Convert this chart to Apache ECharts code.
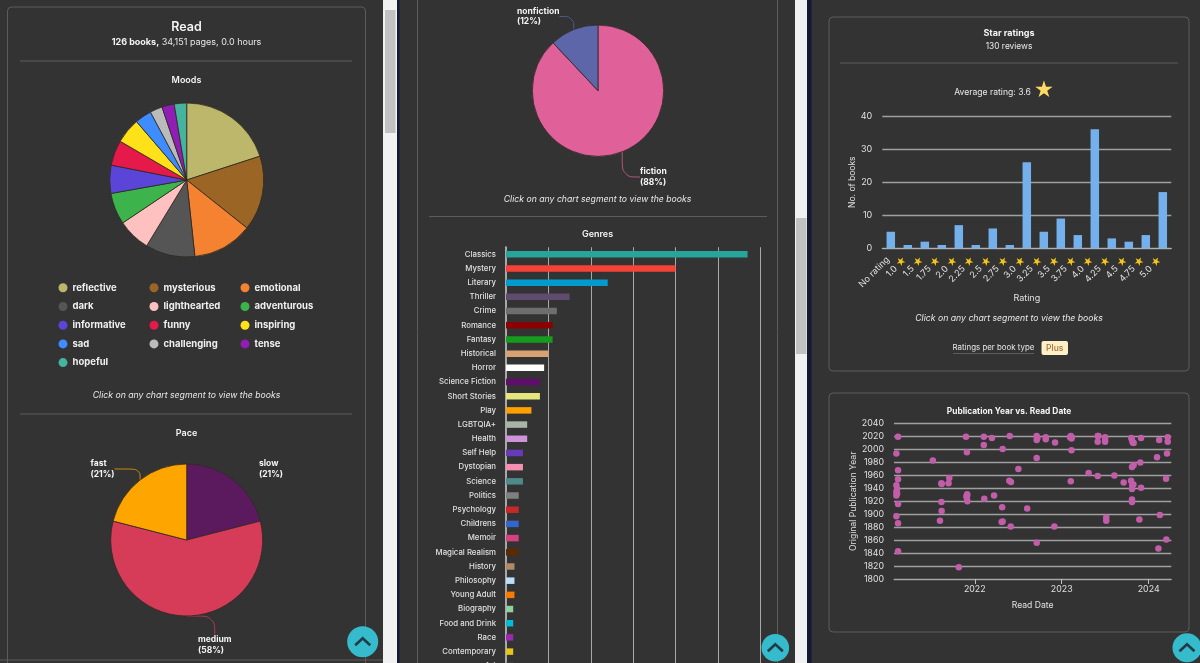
<!DOCTYPE html>
<html>
<head>
<meta charset="utf-8">
<title>Reading stats</title>
<script src="https://cdn.jsdelivr.net/npm/echarts@6/dist/echarts.min.js"></script>
<style>
html, body { margin: 0; padding: 0; background: #333; }
#charts_box { width: 1200px; height: 663px; }
</style>
</head>
<body>
<div id="charts_box"></div>
<script>
var moodNames = ['reflective','mysterious','emotional','dark','lighthearted','adventurous','informative','funny','inspiring','sad','challenging','tense','hopeful'];
var moodValues = [20, 15.7, 12.6, 10.4, 6.9, 6.6, 5.9, 5.3, 5.3, 3.5, 2.6, 2.6, 2.6];
var moodColors = ['#BDB76B','#9B6625','#F58231','#555555','#FFC0C0','#3CB44B','#5A45D8','#E6194B','#FFE119','#3E8CFF','#BBBBBB','#911EB4','#45B39D'];

var paceNames = ['slow','medium','fast'];
var paceValues = [21, 58, 21];
var paceColors = ['#5C1A5E','#D63B57','#FFA500'];

var typeNames = ['fiction','nonfiction'];
var typeValues = [88, 12];
var typeColors = ['#E0609A','#5C66A8'];

var genreNames = ['Classics','Mystery','Literary','Thriller','Crime','Romance','Fantasy','Historical','Horror','Science Fiction','Short Stories','Play','LGBTQIA+','Health','Self Help','Dystopian','Science','Politics','Psychology','Childrens','Memoir','Magical Realism','History','Philosophy','Young Adult','Biography','Food and Drink','Race','Contemporary','Art'];
var genreValues = [57,40,24,15,12,11,11,10,9,8,8,6,5,5,4,4,4,3,3,3,3,3,2,2,2,1.7,1.7,1.7,1.7,1.7];
var genreColors = ['#26A69A','#F44336','#039BCE','#5F4B6E','#6E6E6E','#8B0000','#169B1F','#D9A273','#FFFFFF','#5F0F6B','#E6E67F','#FFA000','#A9B5A5','#CE93D8','#673AB7','#F48FB1','#4F8A8B','#808080','#C62828','#3366CC','#D6407F','#5D2A00','#B08968','#BBDEFB','#F57C00','#8FD19E','#00BCD4','#9C27B0','#E6C519','#555555'];

var ratingNames = ['No rating','1.0','1.5','1.75','2.0','2.25','2.5','2.75','3.0','3.25','3.5','3.75','4.0','4.25','4.5','4.75','5.0'];
var ratingValues = [5,1,2,1,7,1,6,1,26,5,9,4,36,3,2,4,17];

// read date, original publication year
var readDates = [
  ['2021-02-13',2020],['2021-02-06',1994],['2021-02-13',1968],['2021-02-13',1954],['2021-02-06',1945],['2021-02-09',1939],['2021-02-06',1935],['2021-02-09',1932],['2021-02-06',1929],['2021-02-13',1916],['2021-02-06',1897],['2021-02-13',1886],['2021-02-13',1843],
  ['2021-07-09',1983],['2021-08-15',1947],['2021-08-14',1948],['2021-08-14',1919],['2021-08-15',1905],['2021-08-08',1890],['2021-09-16',1956],['2021-09-13',1948],['2021-10-26',1818],
  ['2021-11-25',2020],['2021-11-29',1996],['2021-11-30',1931],['2021-11-27',1928],['2021-11-29',1925],['2021-12-01',1920],['2021-11-30',1929],
  ['2022-02-08',2020],['2022-02-08',2007],['2022-02-10',1924],['2022-03-14',2018],['2022-03-23',1929],['2022-04-28',2001],['2022-04-26',1911],['2022-04-28',1889],['2022-04-24',1888],['2022-06-01',1881],['2022-05-28',2021],['2022-05-26',1952],['2022-06-02',1950],['2022-07-03',1970],['2022-08-09',1909],
  ['2022-09-18',1987],['2022-09-18',1856],['2022-09-18',2021],['2022-09-21',2018],['2022-09-18',2015],['2022-10-26',2019],['2022-10-26',2016],['2022-12-04',2011],['2022-12-01',1881],
  ['2023-02-11',1999],['2023-02-08',1951],['2023-02-08',2021],['2023-02-12',2019],['2023-02-05',2019],['2023-02-11',2017],['2023-04-24',1964],['2023-06-01',1959],['2023-06-04',2021],['2023-06-01',2021],['2023-06-01',2012],['2023-07-02',2019],['2023-07-02',2015],['2023-07-02',2012],['2023-07-07',1895],['2023-07-07',1890],['2023-08-10',1960],['2023-09-18',1949],
  ['2023-10-19',1952],['2023-10-24',1945],['2023-10-29',1946],['2023-10-23',1939],['2023-10-23',1923],['2023-10-23',1919],['2023-10-20',2018],['2023-10-23',2015],['2023-10-26',2011],['2023-10-30',2010],['2023-10-23',1973],['2023-10-30',1976],['2023-11-27',1980],['2023-11-30',2018],['2023-11-30',1941],['2023-11-23',1892],
  ['2024-02-05',1988],['2024-02-14',2015],['2024-02-17',1899],['2024-02-11',1847],['2024-03-15',1861],['2024-03-14',1955],['2024-03-18',1994],['2024-03-21',2019],['2024-03-21',2012]
];

var FONT = 'Inter, "Noto Sans", sans-serif';
var PAGE = '#333333';
var LINE = '#5c5c5c';

function zip(names, values, colors) {
  return names.map(function (n, i) {
    return { name: n, value: values[i], itemStyle: { color: colors[i] } };
  });
}

function txt(x, y, text, size, opts) {
  opts = opts || {};
  return {
    type: 'text', x: x, y: y, z: 20,
    style: {
      text: text,
      fill: opts.color || '#e8e8e8',
      fontFamily: FONT,
      fontSize: size,
      fontWeight: opts.weight || 400,
      fontStyle: opts.italic ? 'italic' : 'normal',
      textAlign: opts.align || 'center',
      textVerticalAlign: 'middle',
      rich: opts.rich
    }
  };
}

function box(x, y, w, h, fill, r) {
  return { type: 'rect', z: -1, silent: true, shape: { x: x, y: y, width: w, height: h, r: r || 0 }, style: { fill: fill } };
}

function card(x, y, w, h) {
  return { type: 'rect', z: -1, silent: true, shape: { x: x, y: y, width: w, height: h, r: 4 }, style: { fill: 'none', stroke: LINE, lineWidth: 1 } };
}

function rule(x1, x2, y) {
  return { type: 'line', z: -1, silent: true, shape: { x1: x1, y1: y, x2: x2, y2: y }, style: { stroke: LINE, lineWidth: 1 } };
}

// round teal "back to top" button
function upButton(cx, cy, r) {
  return [
    { type: 'circle', z: 50, shape: { cx: cx, cy: cy, r: r }, style: { fill: '#35BBCB' } },
    { type: 'polyline', z: 51, shape: { points: [[cx - 7.5, cy + 3.5], [cx, cy - 3.5], [cx + 7.5, cy + 3.5]] }, style: { stroke: '#1f3c48', lineWidth: 2.6, fill: 'none' } }
  ];
}

var clickHint = 'Click on any chart segment to view the books';

var graphics = [
  // columns and scrollbars
  box(383, 0, 14, 663, '#F1F1F1'),
  box(385, 10, 10.5, 123, '#C1C1C1'),
  box(397, 0, 2.5, 663, '#141a33'),
  box(795, 0, 12, 663, '#F1F1F1'),
  box(796, 218, 10.5, 136, '#C1C1C1'),
  box(807, 0, 4.5, 663, '#141a33'),
  rule(0, 383, 660),
  card(7.5, 7, 358, 660),
  card(417.5, -20, 360, 700),
  card(829, 17, 360, 354),
  card(829, 393, 360, 239),
  rule(20, 352, 61),
  rule(20, 352, 414),
  rule(429, 767, 216.5),
  rule(840, 1178, 63),

  txt(186.5, 27.5, 'Read', 12.5, { weight: 600, color: '#f4f4f4' }),
  txt(186.5, 42, '{b|126 books,} 34,151 pages, 0.0 hours', 9, { rich: { b: { fontWeight: 700, fontSize: 9, fontFamily: FONT, fill: '#f4f4f4' } } }),
  txt(186.5, 80, 'Moods', 9, { weight: 600, color: '#f4f4f4' }),
  txt(186.5, 395, clickHint, 8.7, { italic: true }),
  txt(186.5, 433, 'Pace', 9, { weight: 600, color: '#f4f4f4' }),
  txt(597.5, 199.5, clickHint, 8.7, { italic: true }),
  txt(597.5, 234, 'Genres', 9, { weight: 600, color: '#f4f4f4' }),
  txt(1009, 33, 'Star ratings', 9, { weight: 700, color: '#f4f4f4' }),
  txt(1009, 46, '130 reviews', 8.4),
  txt(992.5, 92, 'Average rating: 3.6', 8.6),
  txt(1044, 91, '★', 20, { color: '#FFD866' }),
  txt(1009, 318, clickHint, 8.7, { italic: true }),
  txt(993.5, 347.5, 'Ratings per book type', 7.9),
  rule(953, 1034, 353.5),
  { type: 'rect', z: 5, shape: { x: 1041.5, y: 341, width: 26.5, height: 14, r: 2 }, style: { fill: '#FEF0C7' } },
  txt(1054.7, 348, 'Plus', 8.5, { color: '#A6703A', weight: 500 }),
  txt(1009, 411, 'Publication Year vs. Read Date', 8.4, { weight: 700, color: '#f4f4f4' })
].concat(upButton(362.7, 641.7, 15.5), upButton(775.3, 647.7, 13.8), upButton(1187, 647.7, 14.5));

function legendCol(left, names) {
  return {
    left: left, top: 282.8, padding: 0, orient: 'vertical', selectedMode: false,
    icon: 'circle', itemWidth: 9, itemHeight: 9, itemGap: 8.7,
    itemStyle: { borderWidth: 0 },
    textStyle: { color: '#f0f0f0', fontFamily: FONT, fontSize: 9.5, fontWeight: 700 },
    data: names
  };
}

function pie(center, radius, data, layouts) {
  return {
    type: 'pie', center: center, radius: radius, data: data,
    silent: true,
    itemStyle: { borderColor: '#2e2a22', borderWidth: 0.8 },
    label: {
      show: !!layouts, formatter: '{b}\n({d}%)', color: '#f4f4f4',
      fontFamily: FONT, fontSize: 8.5, fontWeight: 700, lineHeight: 10.5
    },
    labelLine: { show: !!layouts, smooth: 0.4, lineStyle: { width: 1, opacity: 0.75 } },
    labelLayout: layouts ? function (p) { return layouts[p.dataIndex]; } : undefined
  };
}

var paceData = zip(paceNames, paceValues, paceColors);
paceData[0].labelLine = { show: false };

var option = {
  backgroundColor: PAGE,
  animation: false,
  graphic: { elements: graphics },
  legend: [
    legendCol(58.5, [moodNames[0], moodNames[3], moodNames[6], moodNames[9], moodNames[12]]),
    legendCol(149.5, [moodNames[1], moodNames[4], moodNames[7], moodNames[10]]),
    legendCol(240.5, [moodNames[2], moodNames[5], moodNames[8], moodNames[11]])
  ],
  grid: [
    { left: 506, top: 247.2, width: 254.3, height: 14.19 * genreNames.length, outerBoundsMode: 'none' },
    { left: 882.3, top: 116, width: 289, height: 132.3, outerBoundsMode: 'none' },
    { left: 894, top: 423.7, width: 277.3, height: 155.3, outerBoundsMode: 'none' }
  ],
  xAxis: [
    {
      gridIndex: 0, type: 'value', min: 0, max: 60, interval: 10,
      axisLabel: { show: false }, axisLine: { show: false }, axisTick: { show: false },
      splitLine: { lineStyle: { color: '#a8a8a8', width: 1 } }
    },
    {
      gridIndex: 1, type: 'category', data: ratingNames,
      name: 'Rating', nameLocation: 'middle', nameGap: 45,
      nameTextStyle: { color: '#e0e0e0', fontFamily: FONT, fontSize: 9 },
      axisLine: { lineStyle: { color: '#b0b0b0', width: 1.2 } },
      axisTick: { show: false },
      axisLabel: {
        interval: 0, rotate: 45, margin: 7, color: '#e0e0e0', fontFamily: FONT, fontSize: 9,
        formatter: function (v) { return v === 'No rating' ? '{n|' + v + '}' : v + ' {s|★}'; },
        rich: {
          s: { color: '#F5C518', fontSize: 10, padding: [0, 4, 0, 0] },
          n: { color: '#e0e0e0', fontSize: 9, fontFamily: FONT, padding: [0, 4, 0, 0] }
        }
      }
    },
    {
      gridIndex: 2, type: 'time', min: '2021-01-27', max: '2024-04-05',
      minInterval: 365 * 24 * 3600 * 1000, splitNumber: 3,
      name: 'Read Date', nameLocation: 'middle', nameGap: 22,
      nameTextStyle: { color: '#e0e0e0', fontFamily: FONT, fontSize: 8.6 },
      axisLine: { lineStyle: { color: '#a8a8a8' } },
      axisTick: { length: 5, lineStyle: { color: '#c0c0c0' } },
      splitLine: { show: false },
      axisLabel: {
        color: '#e0e0e0', fontFamily: FONT, fontSize: 8.8, margin: 6,
        showMinLabel: false, showMaxLabel: false, hideOverlap: false,
        formatter: '{yyyy}'
      }
    }
  ],
  yAxis: [
    {
      gridIndex: 0, type: 'category', inverse: true, data: genreNames,
      axisLine: { lineStyle: { color: '#a8a8a8', width: 2 } }, axisTick: { show: false },
      axisLabel: { interval: 0, margin: 10, color: '#e0e0e0', fontFamily: FONT, fontSize: 7.8, fontWeight: 500 }
    },
    {
      gridIndex: 1, type: 'value', min: 0, max: 40, interval: 10,
      name: 'No. of books', nameLocation: 'middle', nameGap: 24, nameRotate: 90,
      nameTextStyle: { color: '#e0e0e0', fontFamily: FONT, fontSize: 8.5 },
      axisLine: { show: false }, axisTick: { show: false },
      axisLabel: { margin: 10, color: '#e0e0e0', fontFamily: FONT, fontSize: 9 },
      splitLine: { lineStyle: { color: '#a0a0a0', width: 1.4 } }
    },
    {
      gridIndex: 2, type: 'value', min: 1800, max: 2040, interval: 20,
      name: 'Original Publication Year', nameLocation: 'middle', nameGap: 31, nameRotate: 90,
      nameTextStyle: { color: '#e0e0e0', fontFamily: FONT, fontSize: 8.6 },
      axisLine: { show: false }, axisTick: { show: false },
      axisLabel: { margin: 10, color: '#e0e0e0', fontFamily: FONT, fontSize: 8.8, formatter: function (v) { return String(v); } },
      splitLine: { lineStyle: { color: '#a0a0a0', width: 1.3 } }
    }
  ],
  series: [
    pie([186.7, 180], 77, zip(moodNames, moodValues, moodColors)),
    pie([186.7, 540], 76, paceData, [
      { x: 259, y: 469, align: 'left' }, { x: 198, y: 645, align: 'left' }, { x: 90.5, y: 469, align: 'left' }
    ]),
    pie([598, 90.7], 65.7, zip(typeNames, typeValues, typeColors), [
      { x: 640, y: 177, align: 'left' }, { x: 517, y: 16.5, align: 'left' }
    ]),
    {
      type: 'bar', xAxisIndex: 0, yAxisIndex: 0, barWidth: 6.5, silent: true,
      data: zip(genreNames, genreValues, genreColors)
    },
    {
      type: 'bar', xAxisIndex: 1, yAxisIndex: 1, barWidth: 8.5, silent: true,
      itemStyle: { color: '#74B1EC' }, data: ratingValues
    },
    {
      type: 'scatter', xAxisIndex: 2, yAxisIndex: 2, symbolSize: 6.5, silent: true, clip: false,
      itemStyle: { color: '#C25DAA', opacity: 1 }, data: readDates
    }
  ]
};

window.onload = function () {
  var myChart = echarts.init(document.getElementById('charts_box'));
  myChart.setOption(option);
};
</script>
</body>
</html>
